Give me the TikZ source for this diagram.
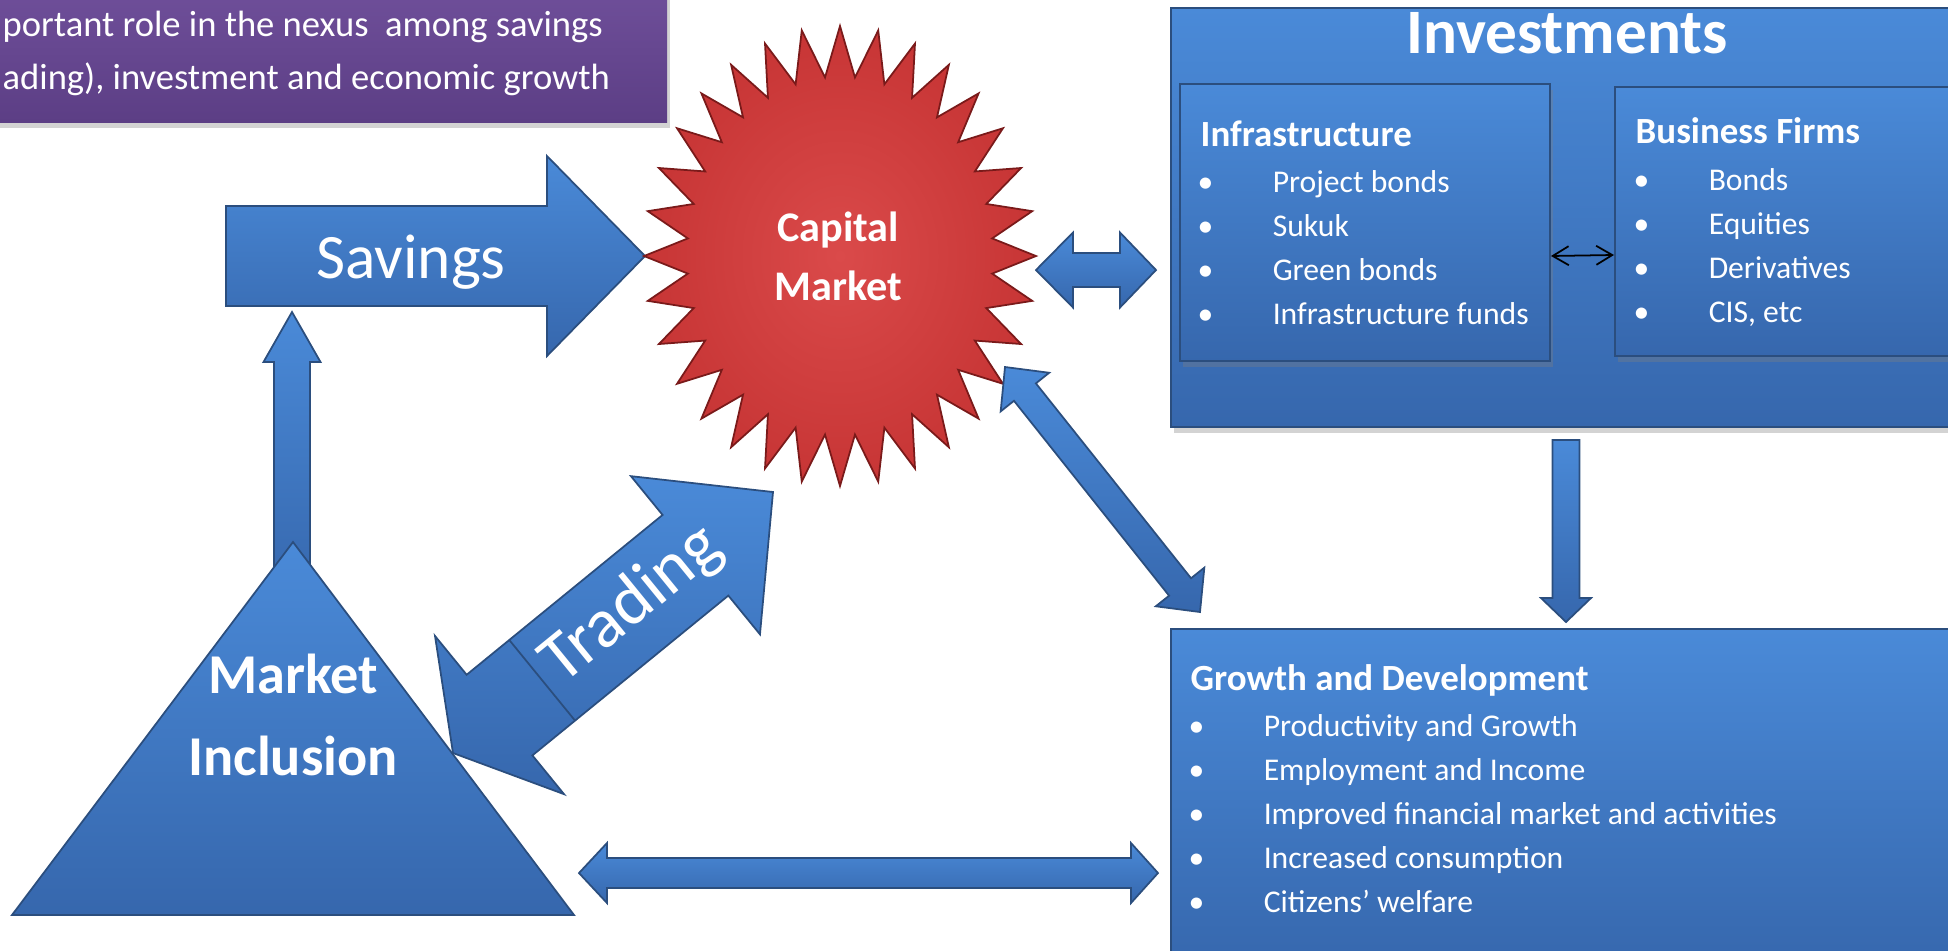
\documentclass[tikz,border=0pt]{standalone}
\usepackage{fontspec}
\setmainfont{Carlito}
\usepackage{tikz}
\usetikzlibrary{positioning}
\usetikzlibrary{calc,shadows,arrows.meta}

\definecolor{bluetop}{HTML}{4A8AD8}
\definecolor{bluebot}{HTML}{3667AD}
\definecolor{blueline}{HTML}{2B4E7E}
\definecolor{redin}{HTML}{DA4A4A}
\definecolor{redout}{HTML}{C73535}
\definecolor{redline}{HTML}{7A1A1A}
\definecolor{purptop}{HTML}{70509B}
\definecolor{purpbot}{HTML}{5C3E85}

\tikzset{
  bluefill/.style={draw=blueline, line width=0.5pt, top color=bluetop, bottom color=bluebot},
  bluebox/.style={bluefill, rectangle, inner sep=0pt, anchor=north west,
    drop shadow={shadow xshift=0.3mm, shadow yshift=-0.6mm, opacity=0.35}},
  boxtitle/.style={text=white, anchor=base west, inner sep=0pt, font=\fontsize{10.5}{12.5}\selectfont\bfseries},
  boxtext/.style={text=white, align=left, anchor=base west, inner sep=0pt, font=\fontsize{9}{12.5}\selectfont},
  whitebold/.style={text=white, align=center, anchor=base, inner sep=0pt, font=\bfseries},
}

\newcommand{\listline}[1]{\makebox[0.75cm][l]{\textbullet}#1}

% from, to, half shaft, half head, head length
\newcommand{\sglarrow}[5]{%
  \coordinate (hb) at ($(#2)!#5!(#1)$);
  \path[bluefill] ($(#1)!#3!90:(#2)$) -- ($(hb)!#3!90:(#2)$) -- ($(hb)!#4!90:(#2)$) -- (#2)
    -- ($(hb)!#4!-90:(#2)$) -- ($(hb)!#3!-90:(#2)$) -- ($(#1)!#3!-90:(#2)$) -- cycle;
}
% from, to, half shaft, half head, head length at from, head length at to
\newcommand{\dblarrow}[6]{%
  \coordinate (ha) at ($(#1)!#5!(#2)$);
  \coordinate (hb) at ($(#2)!#6!(#1)$);
  \path[bluefill] (#1) -- ($(ha)!#4!90:(#2)$) -- ($(ha)!#3!90:(#2)$) -- ($(hb)!#3!90:(#2)$)
    -- ($(hb)!#4!90:(#2)$) -- (#2) -- ($(hb)!#4!-90:(#2)$) -- ($(hb)!#3!-90:(#2)$)
    -- ($(ha)!#3!-90:(#2)$) -- ($(ha)!#4!-90:(#2)$) -- cycle;
}

\begin{document}
\begin{tikzpicture}[x=0.01cm, y=-0.01cm]
  \useasboundingbox (0,0) rectangle (1948,950);
  \clip (0,0) rectangle (1948,950);

  \path[top color=purptop, bottom color=purpbot, drop shadow={shadow xshift=0.3mm, shadow yshift=-0.6mm, opacity=0.35}] (-20,-20) rectangle (667,122);
  \node (intro) at (2,89) [anchor=base west, align=left, text=white, inner sep=0pt, font=\fontsize{10.4}{15}\selectfont]
    {portant role in the nexus\ \ among savings\\ading), investment and economic growth};

  \coordinate (sv0) at (226,256);
  \coordinate (sv1) at (645,256);
  \sglarrow{sv0}{sv1}{0.5cm}{1.0cm}{0.98cm}
  \node (sav) at (411,278) [anchor=base, text=white, inner sep=0pt, font=\fontsize{18}{20}\selectfont] {Savings};

  \coordinate (up0) at (292,600);
  \coordinate (up1) at (292,312);
  \sglarrow{up0}{up1}{0.18cm}{0.285cm}{0.5cm}

  \filldraw[bluefill] (293,542) -- (574,915) -- (12,915) -- cycle;
  \node (incl) at (293,775) [whitebold, font=\fontsize{16}{23.3}\selectfont\bfseries] {Market\\Inclusion};

  \coordinate (tr0) at (453,753);
  \coordinate (tr1) at (773,492);
  \dblarrow{tr0}{tr1}{0.52cm}{1.02cm}{0.6cm}{1.0cm}
  \coordinate (trs) at ($(tr0)!1.15cm!(tr1)$);
  \draw[blueline, line width=0.5pt] ($(trs)!0.52cm!90:(tr1)$) -- ($(trs)!0.52cm!-90:(tr1)$);
  \node (trd) at (632,605) [rotate=39.2, text=white, inner sep=0pt, font=\fontsize{20}{22}\selectfont] {Trading};

  \path[draw=redline, line width=0.5pt, inner color=redin, outer color=redout]
    plot[samples at={0,...,63}] ({840+196*(0.89+0.11*cos(\x*180))*cos(\x*5.625)}, {256+230*(0.89+0.11*cos(\x*180))*sin(\x*5.625)}) -- cycle;
  \node (capmkt) at (838,300) [whitebold, font=\fontsize{12}{16.5}\selectfont\bfseries] {Capital\\Market};

  \coordinate (cm0) at (1036,270);
  \coordinate (cm1) at (1156,270);
  \dblarrow{cm0}{cm1}{0.17cm}{0.375cm}{0.37cm}{0.36cm}

  \coordinate (dg0) at (1005,367);
  \coordinate (dg1) at (1200,612);
  \dblarrow{dg0}{dg1}{0.14cm}{0.31cm}{0.32cm}{0.32cm}

  \node (inv) at (1170,7) [bluebox, minimum width=7.9cm, minimum height=4.19cm] {};
  \node (invtitle) at (1567,53) [anchor=base, text=white, inner sep=0pt, font=\fontsize{18}{20}\selectfont\bfseries] {Investments};
  \node (infra) at (1179,83) [bluebox, minimum width=3.70cm, minimum height=2.77cm] {};
  \node (firms) at (1614,86) [bluebox, minimum width=3.46cm, minimum height=2.69cm] {};
  \node (infratitle) at (1200,146) [boxtitle] {Infrastructure};
  \node (infralist) at (1197,324) [boxtext]
    {\listline{Project bonds}\\\listline{Sukuk}\\\listline{Green bonds}\\\listline{Infrastructure funds}};
  \node (firmstitle) at (1635,143) [boxtitle] {Business Firms};
  \node (firmslist) at (1633,322) [boxtext]
    {\listline{Bonds}\\\listline{Equities}\\\listline{Derivatives}\\\listline{CIS, etc}};
  \draw[{Straight Barb[length=1.6mm,width=1.9mm]}-{Straight Barb[length=1.6mm,width=1.9mm]}, line width=0.5pt]
    ([yshift=-0.335cm]infra.east) -- ([yshift=-0.335cm]firms.west);

  \coordinate (dn0) at (1566,440);
  \coordinate (dn1) at (1566,622);
  \sglarrow{dn0}{dn1}{0.135cm}{0.25cm}{0.24cm}

  \node (growth) at (1170,628) [bluebox, minimum width=7.9cm, minimum height=3.4cm] {};
  \node (growthtitle) at (1190,690) [boxtitle] {Growth and Development};
  \node (growthlist) at (1188,912) [boxtext]
    {\listline{Productivity and Growth}\\\listline{Employment and Income}\\\listline{Improved financial market and activities}\\\listline{Increased consumption}\\\listline{Citizens’ welfare}};

  \coordinate (bt0) at (579,873);
  \coordinate (bt1) at (1158,873);
  \dblarrow{bt0}{bt1}{0.15cm}{0.30cm}{0.28cm}{0.27cm}
\end{tikzpicture}
\end{document}
